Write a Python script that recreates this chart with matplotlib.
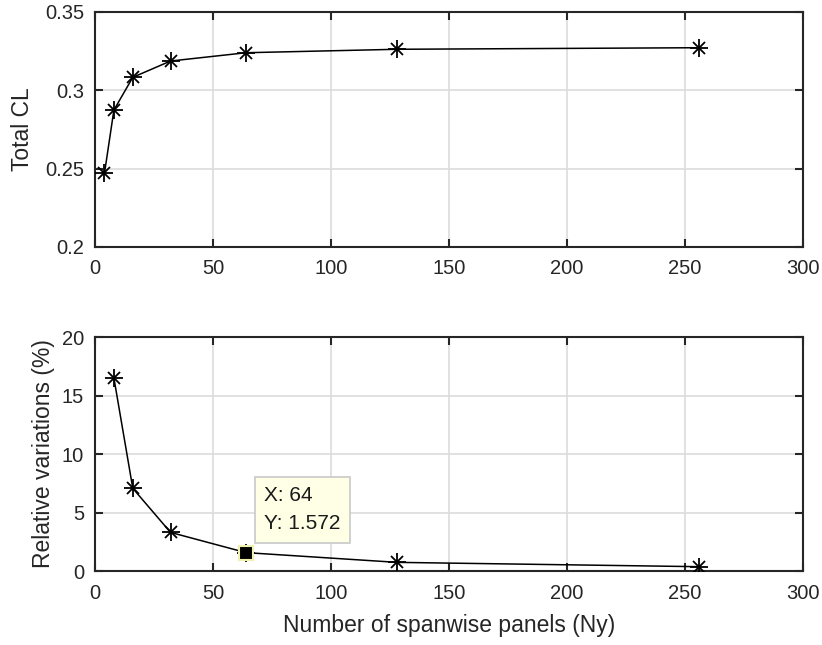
import matplotlib
matplotlib.use("Agg")
import matplotlib.pyplot as plt

# Data
ny = [4, 8, 16, 32, 64, 128, 256]
total_cl = [0.247, 0.2874, 0.3083, 0.3187, 0.3240, 0.3262, 0.3272]
ny_rel = [8, 16, 32, 64, 128, 256]
rel_var = [16.5, 7.07, 3.30, 1.572, 0.74, 0.37]
x_ticks = [0, 50, 100, 150, 200, 250, 300]
y1_ticks = [0.2, 0.25, 0.3, 0.35]
y1_labels = ["0.2", "0.25", "0.3", "0.35"]
y2_ticks = [0, 5, 10, 15, 20]
tip_x, tip_y = 64, 1.572

plt.rcParams['font.family'] = ['Liberation Sans', 'DejaVu Sans']
TXT = '#262626'
TICK_FS = 14.5
LAB_FS = 16.5

fig = plt.figure(figsize=(8.22, 6.45), dpi=100)
ax1 = fig.add_axes([0.1156, 0.6171, 0.8613, 0.3643])
ax2 = fig.add_axes([0.1156, 0.1147, 0.8613, 0.3628])


def style(ax):
    ax.grid(True, color='#dcdcdc', linewidth=1.2)
    ax.set_axisbelow(True)
    for s in ax.spines.values():
        s.set_color(TXT)
        s.set_linewidth(1.5)
    ax.tick_params(direction='in', length=6, width=1.5, color=TXT,
                   top=True, right=True, labelsize=TICK_FS, labelcolor=TXT)
    ax.tick_params(axis='x', pad=9)
    ax.tick_params(axis='y', pad=8)
    ax.set_xlim(0, 300)
    ax.set_xticks(x_ticks)


def star_plot(ax, x, y):
    ax.plot(x, y, color='black', linewidth=1.1, zorder=3)
    ax.plot(x, y, linestyle='none', marker='+', markersize=13,
            markeredgewidth=1.3, color='black', zorder=4)
    ax.plot(x, y, linestyle='none', marker='x', markersize=9,
            markeredgewidth=1.3, color='black', zorder=4)


style(ax1)
star_plot(ax1, ny, total_cl)
ax1.set_ylim(0.2, 0.35)
ax1.set_yticks(y1_ticks)
ax1.set_yticklabels(y1_labels)
ax1.set_ylabel('Total CL', fontsize=LAB_FS, color=TXT, labelpad=8)

style(ax2)
star_plot(ax2, ny_rel, rel_var)
ax2.set_ylim(0, 20)
ax2.set_yticks(y2_ticks)
ax2.set_ylabel('Relative variations (%)', fontsize=LAB_FS, color=TXT, labelpad=5)
ax2.set_xlabel('Number of spanwise panels (Ny)', fontsize=LAB_FS, color=TXT, labelpad=8)

# data tip marker
ax2.plot([tip_x], [tip_y], marker='s', markersize=10, color='black',
         markeredgecolor='#f0f0b0', markeredgewidth=1.5, zorder=6,
         linestyle='none')
ax2.annotate(f'X: {tip_x}\nY: {tip_y}', xy=(tip_x, tip_y),
             xytext=(13, 14), textcoords='offset points',
             ha='left', va='bottom', fontsize=15, color='#1a1a1a',
             linespacing=1.6,
             bbox=dict(boxstyle='square,pad=0.45', facecolor='#ffffe6',
                       edgecolor='#c8c8c8', linewidth=1.2),
             zorder=7)

fig.savefig('out.png', dpi=100, facecolor='white')
